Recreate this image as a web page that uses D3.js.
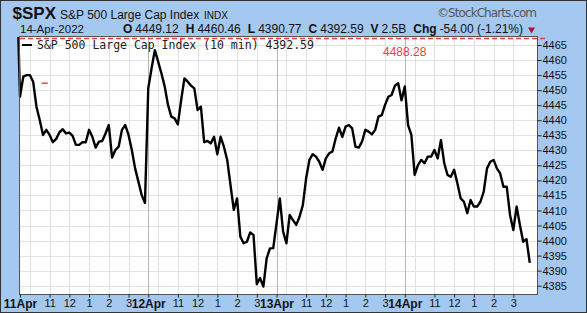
<!DOCTYPE html>
<html lang="en">
  <head>
    <meta charset="UTF-8" />
    <title>$SPX 10 min</title>
    <style>
      html,
      body {
        margin: 0;
        background: #a4c8f0;
        font-family: 'Liberation Sans', Arial, sans-serif;
      }
      svg text {
        fill: #111;
      }
    </style>
  </head>
  <body>
    <div id="chart"></div>

    <script src="https://cdnjs.cloudflare.com/ajax/libs/d3/7.8.5/d3.min.js"></script>
    <script>
      // 10 minute closes, 39 bars a day (9:30 .. 15:50)
      const apr11 = [4447.8, 4454.5, 4455.0, 4455.0, 4452.8, 4444.5, 4440.1, 4435.1, 4436.8, 4435.1,
        4432.7, 4433.8, 4436.0, 4437.0, 4435.6, 4435.9, 4434.8, 4431.8, 4431.8, 4432.7,
        4432.7, 4436.8, 4434.5, 4430.9, 4432.9, 4433.1, 4435.6, 4438.4, 4427.6, 4430.1,
        4431.2, 4436.8, 4438.4, 4435.1, 4430.1, 4424.0, 4419.6, 4415.1, 4412.5];
      const apr12 = [4450.6, 4457.2, 4463.3, 4459.5, 4455.6, 4451.2, 4445.1, 4441.2, 4440.6, 4438.6,
        4446.7, 4453.9, 4452.8, 4451.5, 4450.6, 4443.4, 4444.5, 4432.7, 4433.1, 4432.3,
        4434.5, 4428.7, 4434.5, 4431.2, 4426.8, 4418.5, 4410.2, 4414.0, 4401.3, 4399.1,
        4399.6, 4402.7, 4401.9, 4385.5, 4387.5, 4384.7, 4394.1, 4397.4, 4397.5];
      const apr13 = [4405.7, 4414.0, 4403.0, 4399.1, 4408.5, 4406.8, 4405.2, 4407.9, 4411.8, 4420.7,
        4426.8, 4428.7, 4427.9, 4426.2, 4423.5, 4427.3, 4429.0, 4429.6, 4434.0, 4437.5,
        4434.5, 4437.9, 4438.4, 4437.3, 4431.2, 4430.9, 4432.9, 4436.8, 4436.2, 4435.3,
        4436.8, 4441.2, 4441.7, 4445.1, 4447.8, 4448.4, 4451.5, 4452.3, 4446.6];
      const apr14 = [4451.2, 4438.4, 4435.1, 4421.8, 4425.1, 4426.8, 4425.7, 4427.9, 4427.9, 4430.1,
        4427.3, 4433.4, 4425.7, 4421.8, 4421.2, 4423.5, 4419.0, 4414.0, 4412.9, 4409.1,
        4413.5, 4411.3, 4411.3, 4412.9, 4416.3, 4424.0, 4426.2, 4426.8, 4424.0, 4422.3,
        4417.9, 4417.9, 4408.5, 4403.5, 4411.3, 4405.2, 4399.6, 4400.5, 4392.59];

      const prevClose = 4488.28; // 8-Apr close, off the top of the scale
      const marker = { bar: 7.5, value: 4452.3 };

      const dayLabels = ["11Apr", "12Apr", "13Apr", "14Apr"];
      const hourBars = [3, 9, 15, 21, 27, 33];
      const hourLabels = ["", "11", "12", "1", "2", "3"];
      const yTicks = d3.range(4385, 4466, 5);

      const quote = [
        ["O", "4449.12"],
        ["H", "4460.46"],
        ["L", "4390.77"],
        ["C", "4392.59"],
        ["V", "2.5B"],
        ["Chg", "-54.00 (-1.21%)"],
      ];

      const barsPerDay = 39;
      const closes = [].concat(apr11, apr12, apr13, apr14);
      const data = [{ i: -1, v: prevClose }].concat(
        closes.map((v, i) => ({ i: i, v: v }))
      );

      const W = 587,
        H = 313,
        plot = { left: 20, right: 537, top: 37, bottom: 294 };

      const x = d3.scaleLinear().domain([0, 157.2]).range([plot.left, plot.right]);
      const y = d3
        .scaleLinear()
        .domain([4382.24, 4467.66])
        .range([plot.bottom, plot.top]);

      const svg = d3
        .select("#chart")
        .append("svg")
        .attr("width", W)
        .attr("height", H)
        .style("display", "block");

      svg
        .append("rect")
        .attr("width", W)
        .attr("height", H)
        .attr("fill", "#a4c8f0");

      // header
      const head = svg.append("g");
      head
        .append("text")
        .attr("x", 56)
        .attr("y", 19)
        .attr("text-anchor", "end")
        .attr("font-size", 17)
        .attr("font-weight", "bold")
        .text("$SPX");
      head
        .append("text")
        .attr("x", 60)
        .attr("y", 19)
        .attr("font-size", 12)
        .text("S&P 500 Large Cap Index");
      head
        .append("text")
        .attr("x", 204)
        .attr("y", 19)
        .attr("font-size", 10)
        .text("INDX");
      head
        .append("text")
        .attr("x", 437)
        .attr("y", 17)
        .attr("textLength", 100)
        .attr("font-family", "'DejaVu Sans', sans-serif")
        .attr("font-size", 12)
        .style("fill", "#555")
        .text("\u00a9StockCharts.com");

      head
        .append("text")
        .attr("x", 20)
        .attr("y", 33)
        .attr("font-size", 11.5)
        .text("14-Apr-2022");

      const q = head
        .append("text")
        .attr("x", 123)
        .attr("y", 33)
        .attr("font-size", 12);
      quote.forEach((d, k) => {
        q.append("tspan")
          .attr("font-weight", "bold")
          .attr("dx", k ? 7 : 0)
          .text(d[0]);
        q.append("tspan").attr("dx", 3).text(d[1]);
      });

      head
        .append("path")
        .attr("d", d3.symbol(d3.symbolTriangle, 22)())
        .attr("transform", "translate(531.5,29.5) rotate(180)")
        .attr("fill", "#b0123c");

      // plot area
      svg
        .append("rect")
        .attr("x", plot.left)
        .attr("y", plot.top)
        .attr("width", plot.right - plot.left)
        .attr("height", plot.bottom - plot.top)
        .attr("fill", "#fff");

      const grid = svg.append("g");
      grid
        .selectAll("line.h")
        .data(yTicks)
        .join("line")
        .attr("x1", plot.left)
        .attr("x2", plot.right)
        .attr("y1", (d) => Math.round(y(d)) + 0.5)
        .attr("y2", (d) => Math.round(y(d)) + 0.5)
        .attr("stroke", "#e2e2e2");

      const hourTicks = [];
      const dayTicks = [];
      dayLabels.forEach((lab, k) => {
        dayTicks.push({ bar: k * barsPerDay, label: lab });
        hourBars.forEach((b, j) =>
          hourTicks.push({ bar: k * barsPerDay + b, label: hourLabels[j] })
        );
      });

      grid
        .selectAll("line.v")
        .data(hourTicks)
        .join("line")
        .attr("x1", (d) => Math.round(x(d.bar)) + 0.5)
        .attr("x2", (d) => Math.round(x(d.bar)) + 0.5)
        .attr("y1", plot.top)
        .attr("y2", plot.bottom)
        .attr("stroke", "#e2e2e2");
      grid
        .selectAll("line.d")
        .data(dayTicks.slice(1))
        .join("line")
        .attr("x1", (d) => Math.round(x(d.bar)) + 0.5)
        .attr("x2", (d) => Math.round(x(d.bar)) + 0.5)
        .attr("y1", plot.top)
        .attr("y2", plot.bottom)
        .attr("stroke", "#b4b4b4");

      // price line
      svg
        .append("clipPath")
        .attr("id", "clip")
        .append("rect")
        .attr("x", 17)
        .attr("y", plot.top)
        .attr("width", plot.right - 17)
        .attr("height", plot.bottom - plot.top);

      const line = d3
        .line()
        .x((d) => x(d.i))
        .y((d) => y(d.v));

      svg
        .append("path")
        .datum(data)
        .attr("clip-path", "url(#clip)")
        .attr("fill", "none")
        .attr("stroke", "#000")
        .attr("stroke-width", 2.4)
        .attr("stroke-linejoin", "round")
        .attr("d", line);

      svg
        .append("line")
        .attr("x1", x(marker.bar) - 3)
        .attr("x2", x(marker.bar) + 3)
        .attr("y1", y(marker.value))
        .attr("y2", y(marker.value))
        .attr("stroke", "#f04040")
        .attr("stroke-width", 1.5);

      // previous close: dashed line pinned at the top, with its value
      svg
        .append("line")
        .attr("x1", plot.left)
        .attr("x2", 546)
        .attr("y1", 38.5)
        .attr("y2", 38.5)
        .attr("stroke", "#f03c3c")
        .attr("stroke-width", 1.5)
        .attr("stroke-dasharray", "5,3");
      svg
        .append("text")
        .attr("x", 383)
        .attr("y", 56)
        .attr("font-size", 12)
        .style("fill", "#f03c3c")
        .text(prevClose.toFixed(2));

      // legend
      svg
        .append("line")
        .attr("x1", 22)
        .attr("x2", 32)
        .attr("y1", 45)
        .attr("y2", 45)
        .attr("stroke", "#000")
        .attr("stroke-width", 2);
      svg
        .append("text")
        .attr("x", 37)
        .attr("y", 48.5)
        .attr("font-family", "'DejaVu Sans Mono', monospace")
        .attr("font-size", 11.5)
        .style("fill", "#222")
        .text("S&P 500 Large Cap Index (10 min) " + quote[3][1]);

      // frame
      svg
        .append("rect")
        .attr("x", plot.left - 0.5)
        .attr("y", plot.top - 0.5)
        .attr("width", plot.right - plot.left + 1)
        .attr("height", plot.bottom - plot.top + 1)
        .attr("fill", "none")
        .attr("stroke", "#555");

      // y axis on the right
      const yAxis = svg
        .append("g")
        .attr("transform", `translate(${plot.right + 0.5},0)`)
        .call(
          d3
            .axisRight(y)
            .tickValues(yTicks)
            .tickFormat(d3.format("d"))
            .tickSize(4)
            .tickPadding(1)
        );
      yAxis.select(".domain").remove();
      yAxis.selectAll("line").attr("stroke", "#222");
      yAxis
        .selectAll("text")
        .attr("font-family", "'Liberation Sans', Arial, sans-serif")
        .attr("font-size", 11)
        .style("fill", "#111");

      // x axis
      const allTicks = dayTicks.concat(hourTicks.filter((d) => d.label));
      const labelOf = new Map(allTicks.map((d) => [d.bar, d.label]));
      const xAxis = svg
        .append("g")
        .attr("transform", `translate(0,${plot.bottom + 0.5})`)
        .call(
          d3
            .axisBottom(x)
            .tickValues(allTicks.map((d) => d.bar))
            .tickFormat((d) => labelOf.get(d))
            .tickSize(3)
            .tickPadding(2)
        );
      xAxis.select(".domain").remove();
      xAxis.selectAll("line").attr("stroke", "#222");
      xAxis
        .selectAll("text")
        .attr("font-family", "'Liberation Sans', Arial, sans-serif")
        .attr("font-size", 11)
        .style("fill", "#111");
      xAxis
        .selectAll(".tick")
        .filter((d) => d % barsPerDay === 0)
        .select("text")
        .attr("font-weight", "bold")
        .attr("font-size", 12);

      // outer border
      svg
        .append("rect")
        .attr("x", 0.5)
        .attr("y", 0.5)
        .attr("width", W - 1)
        .attr("height", H - 1)
        .attr("fill", "none")
        .attr("stroke", "#333");
    </script>
  </body>
</html>
